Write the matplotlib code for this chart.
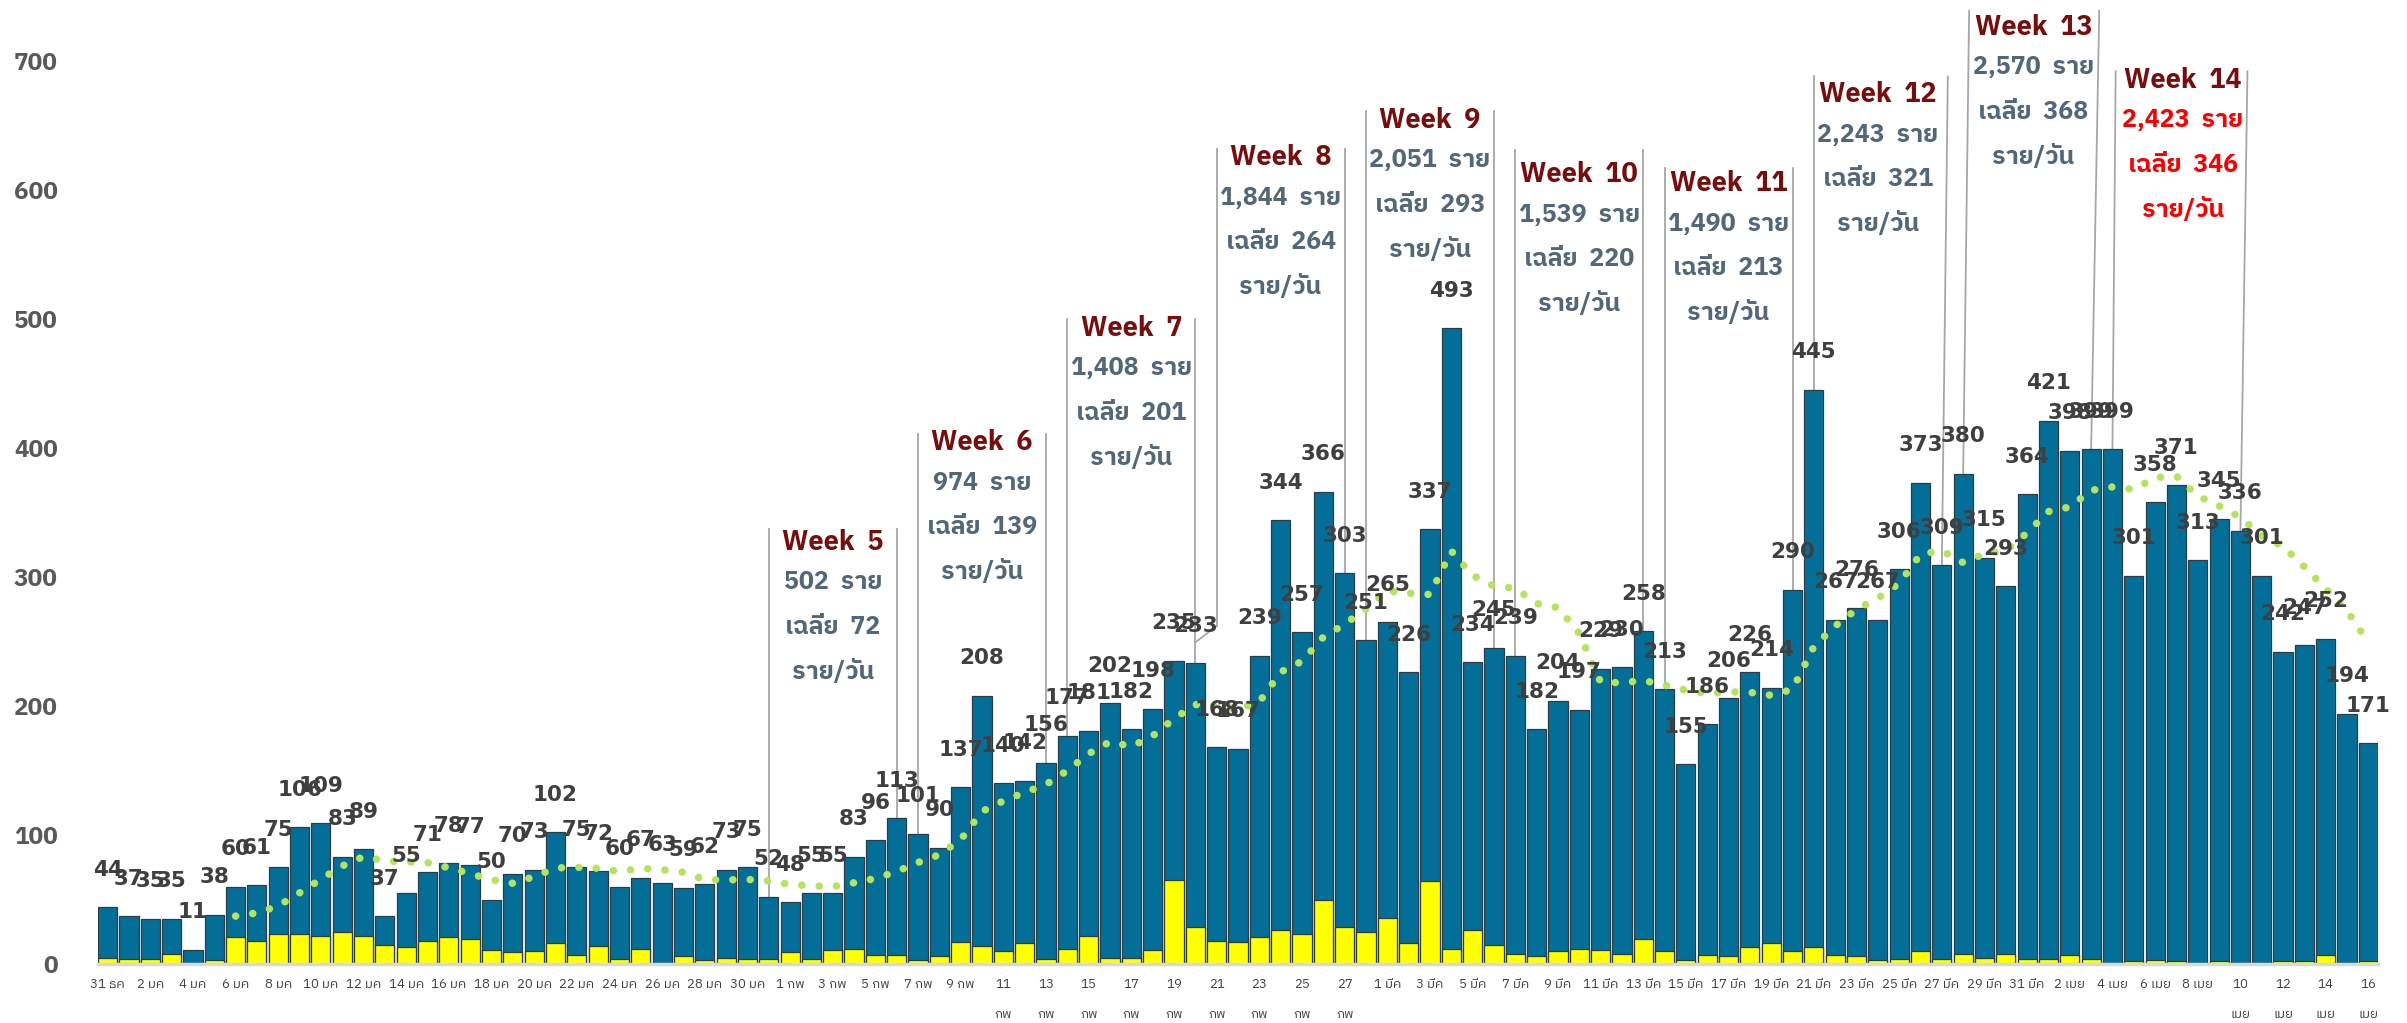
import matplotlib
matplotlib.use("Agg")
import matplotlib.pyplot as plt
from matplotlib import font_manager as fm
import numpy as np
import pandas as pd

# ---------------- data ----------------
dates = pd.date_range("2020-12-31", "2021-04-16", freq="D")
month_th = {12: "ธค", 1: "มค", 2: "กพ", 3: "มีค", 4: "เมย"}

total_cases = [44,
    37, 35, 35, 11, 38, 60, 61, 75, 106, 109, 83, 89, 37, 55, 71, 78, 77, 50, 70, 73,
    102, 75, 72, 60, 67, 63, 59, 62, 73, 75, 52,
    48, 55, 55, 83, 96, 113, 101, 90, 137, 208, 140, 142, 156, 177, 181, 202, 182, 198, 235, 233,
    168, 167, 239, 344, 257, 366, 303, 251,
    265, 226, 337, 493, 234, 245, 239, 182, 204, 197, 229, 230, 258, 213, 155, 186, 206, 226, 214, 290,
    445, 267, 276, 267, 306, 373, 309, 380, 315, 293, 364,
    421, 398, 399, 399, 301, 358, 371, 313, 345, 336, 301, 242, 247, 252, 194, 171]

local_cases = [5,
    4, 4, 8, 0, 3, 21, 18, 23, 23, 22, 25, 22, 15, 13, 18, 21, 19, 11, 9, 10,
    16, 7, 14, 4, 12, 1, 6, 3, 5, 4, 4,
    9, 4, 11, 12, 7, 7, 3, 6, 17, 14, 10, 16, 4, 12, 22, 5, 5, 11, 65, 29,
    18, 17, 21, 26, 23, 50, 29, 25,
    36, 16, 64, 12, 26, 15, 8, 6, 10, 12, 11, 8, 19, 10, 3, 7, 6, 13, 16, 10,
    13, 7, 6, 3, 4, 10, 4, 8, 5, 8, 4,
    4, 7, 4, 0, 2, 3, 2, 1, 2, 1, 1, 2, 2, 7, 1, 2]

# tick labels that Excel wrapped onto two lines
wrapped_ticks = ["2021-02-11", "2021-02-13", "2021-02-15", "2021-02-17", "2021-02-19",
                 "2021-02-21", "2021-02-23", "2021-02-25", "2021-02-27",
                 "2021-04-10", "2021-04-12", "2021-04-14", "2021-04-16"]

week_titles = ["Week  5", "Week  6", "Week  7", "Week  8", "Week  9",
               "Week  10", "Week  11", "Week  12", "Week  13", "Week  14"]
week_totals = ["502", "974", "1,408", "1,844", "2,051", "1,539", "1,490", "2,243", "2,570", "2,423"]
week_avgs = ["72", "139", "201", "264", "293", "220", "213", "321", "368", "346"]
week_first_day = ["2021-01-31", "2021-02-07", "2021-02-14", "2021-02-21", "2021-02-28",
                  "2021-03-07", "2021-03-14", "2021-03-21", "2021-03-28", "2021-04-04"]

# ---------------- fonts ----------------
def find_thai_fonts():
    names = []
    try:
        from fontTools.ttLib import TTFont
    except Exception:
        return names
    for f in fm.fontManager.ttflist:
        try:
            tt = TTFont(f.fname, fontNumber=0, lazy=True)
            cmap = tt.getBestCmap() or {}
            if 0x0E23 in cmap and 0x0E27 in cmap and 0x0E40 in cmap:
                if f.name not in names:
                    names.append(f.name)
        except Exception:
            continue
    return names

thai = find_thai_fonts()
pref = [n for n in thai if "Sans" in n] + [n for n in thai if "Sans" not in n]
families = pref[:1] + ["DejaVu Sans"]
plt.rcParams["font.family"] = families

# ---------------- figure ----------------
W, H = 2407, 1023
fig = plt.figure(figsize=(W / 100, H / 100), dpi=100)
ax = fig.add_axes([98 / W, (H - 964) / H, (2378 - 98) / W, (964 - 61) / H])

n = len(total_cases)
x = np.arange(n)
blue = "#036f98"
ax.bar(x, total_cases, width=0.9, color=blue, edgecolor="#2d3b42", linewidth=0.9, zorder=2)
ax.bar(x, local_cases, width=0.9, color="#ffff00", edgecolor="#2d3b42", linewidth=0.9, zorder=3)

# 7-day moving average trendline (as in the reference's Excel trendline)
ma = pd.Series(total_cases).rolling(7).mean()
ax.plot(x, ma, color="#b4e35c", linewidth=5.4, linestyle=(0, (0.01, 2.3)),
        dash_capstyle="round", zorder=4)

# value labels
for i, v in enumerate(total_cases):
    ax.annotate(str(v), (i, v), xytext=(0, 27), textcoords="offset points",
                ha="center", va="center", fontsize=15.5, fontweight="bold",
                color="#3f3f3f", zorder=6, family=["DejaVu Sans"])

# week annotations
week_top = [337, 411, 500, 632, 661, 631, 617, 688, 739, 692]
week_title_y = [327, 404, 493, 625, 654, 612, 605, 674, 726, 685]
top_dx = [(0, 0), (0, 0), (0, 0), (0, 0), (0, 0), (0, 0), (0, 0), (0, 0.28), (0.28, 0.38), (0.15, 0.33)]
date_index = {d.strftime("%Y-%m-%d"): i for i, d in enumerate(dates)}
line_kw = dict(color="#a6a6a6", linewidth=1.3, zorder=1.5, clip_on=False)
for k, first in enumerate(week_first_day):
    s = date_index[first]
    e = s + 6
    bottom_s = total_cases[s]
    if k == 3:
        bottom_s = 262
        ax.plot([s, s - 0.95], [262, total_cases[s - 1] + 17], **line_kw)
    ax.plot([s, s + top_dx[k][0]], [bottom_s, week_top[k]], **line_kw)
    ax.plot([e, e + top_dx[k][1]], [total_cases[e], week_top[k]], **line_kw)
    cx = (s + e) / 2 + (0.3 if k >= 8 else 0)
    ty = week_title_y[k]
    detail_col = "#ff0000" if k == 9 else "#52687a"
    ax.text(cx, ty, week_titles[k], ha="center", va="center", fontsize=19.5,
            fontweight="bold", color="#7a0c0c", zorder=7, clip_on=False)
    ax.text(cx, ty - 31, f"{week_totals[k]}  ราย", ha="center", va="center",
            fontsize=18, fontweight="bold", color=detail_col, zorder=7, clip_on=False)
    ax.text(cx, ty - 65.5, f"เฉลี่ย  {week_avgs[k]}", ha="center", va="center",
            fontsize=18, fontweight="bold", color=detail_col, zorder=7, clip_on=False)
    ax.text(cx, ty - 100, "ราย/วัน", ha="center", va="center",
            fontsize=18, fontweight="bold", color=detail_col, zorder=7, clip_on=False)

# axes styling
ax.set_xlim(-0.45, n - 0.55)
ax.set_ylim(0, 700)
for side in ["left", "right", "top"]:
    ax.spines[side].set_visible(False)
ax.spines["bottom"].set_color("#d9d9d9")
ax.spines["bottom"].set_linewidth(2.5)
ax.spines["bottom"].set_zorder(5)

ax.set_yticks(np.arange(0, 701, 100))
ax.tick_params(axis="y", length=0, pad=29, labelsize=17.5, labelcolor="#595959")
for t in ax.get_yticklabels():
    t.set_fontweight("bold")

tick_pos = x[::2]
tick_labels = []
for i in tick_pos:
    d = dates[i]
    key = d.strftime("%Y-%m-%d")
    sep = "\n" if key in wrapped_ticks else " "
    tick_labels.append(f"{d.day}{sep}{month_th[d.month]}")
ax.set_xticks(tick_pos)
ax.set_xticklabels(tick_labels, linespacing=2.75)
ax.tick_params(axis="x", length=0, pad=10, labelsize=9.5, labelcolor="#404040")

fig.savefig("out.png", dpi=100, facecolor="white")
